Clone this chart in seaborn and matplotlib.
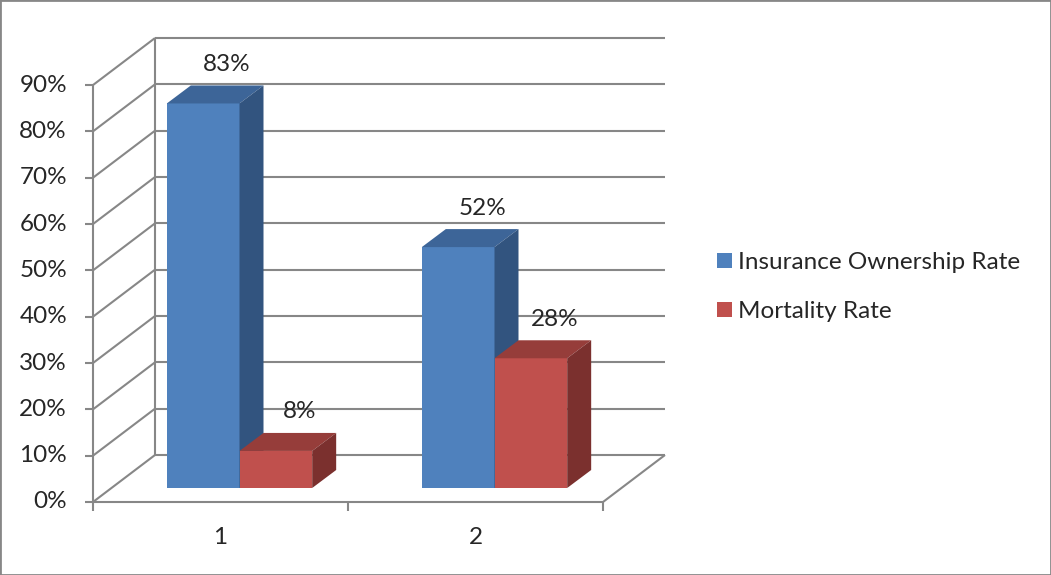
import pandas as pd
import seaborn as sns
import matplotlib.pyplot as plt
import matplotlib.transforms as mtransforms
from matplotlib.patches import Polygon, Patch, Rectangle

# chart data
groups = ["1", "2"]
series = ["Insurance Ownership Rate", "Mortality Rate"]
ownership = [83, 52]
mortality = [8, 28]
y_ticks = [0, 10, 20, 30, 40, 50, 60, 70, 80, 90]

front_colors = ["#4F81BD", "#C0504D"]
top_colors = ["#3D6598", "#963D3A"]
side_colors = ["#32547F", "#7B302E"]
grid_color = "#878787"

df = pd.DataFrame({
    "group": groups * 2,
    "series": [series[0]] * 2 + [series[1]] * 2,
    "rate": ownership + mortality,
})

sns.set_style("white")
plt.rcParams["font.family"] = ["Lato", "DejaVu Sans"]
FS = 17.5

W, H = 1051, 575
fig = plt.figure(figsize=(W / 100, H / 100), dpi=100)
ax = fig.add_axes([0, 0, 1, 1])

sns.barplot(data=df, x="group", y="rate", hue="series", palette=front_colors,
            saturation=1, width=0.57, errorbar=None, legend=False, ax=ax)

# pixel scale of the plot box
x0_px, y0_px = 93, 502          # left end of front floor edge
px_per_cat = 255.0
px_per_pct = 4.633
ax.set_xlim(-0.5 - x0_px / px_per_cat, -0.5 + (W - x0_px) / px_per_cat)
ax.set_ylim(-(H - y0_px) / px_per_pct, y0_px / px_per_pct)
ax.axis("off")

def dxd(px):
    return px / px_per_cat

def dyd(px):
    return px / px_per_pct

# back wall / left wall / floor
wdx, wdy = dxd(62), dyd(47)
xl, xr = -0.5, len(groups) - 0.5
lk = dict(color=grid_color, lw=1.5, solid_capstyle="butt", zorder=1)
for v in y_ticks:
    ax.plot([xl + wdx, xr + wdx], [v + wdy, v + wdy], **lk)
    ax.plot([xl, xl + wdx], [v, v + wdy], **lk)
    ax.plot([xl - dxd(8), xl], [v, v], **lk)
    ax.text(xl - dxd(26), v, f"{v}%", ha="right", va="center", fontsize=FS)
ax.plot([xl + wdx, xl + wdx], [wdy, y_ticks[-1] + wdy], **lk)
ax.plot([xl, xl], [0, y_ticks[-1]], **lk)
ax.plot([xl, xr], [0, 0], **lk)
ax.plot([xr, xr + wdx], [0, wdy], **lk)
for i in range(len(groups) + 1):
    ax.plot([xl + i, xl + i], [0, -dyd(9)], **lk)
for i, g in enumerate(groups):
    ax.text(i, -dyd(36), g, ha="center", va="center", fontsize=FS)

# 3d boxes: shift the bars back into the box and add top / side faces
shift = mtransforms.offset_copy(ax.transData, fig=fig, x=19, y=14, units="dots")
bdx, bdy = dxd(24), dyd(18)
n = len(groups)
for k, p in enumerate(ax.patches[:2 * n]):
    s = k // n
    z = 3 + (k % n) * 10 + s * 3
    p.set_transform(shift)
    p.set_zorder(z)
    p.set_edgecolor("none")
    x, w, h = p.get_x(), p.get_width(), p.get_height()
    top = Polygon([(x, h), (x + w, h), (x + w + bdx, h + bdy), (x + bdx, h + bdy)],
                  closed=True, facecolor=top_colors[s], edgecolor="none",
                  transform=shift, zorder=z + 1)
    side = Polygon([(x + w, 0), (x + w, h), (x + w + bdx, h + bdy), (x + w + bdx, bdy)],
                   closed=True, facecolor=side_colors[s], edgecolor="none",
                   transform=shift, zorder=z + 2)
    ax.add_patch(top)
    ax.add_patch(side)
    ax.text(x + w / 2 + bdx, h + bdy + dyd(21), f"{h:.0f}%", ha="center",
            va="center", fontsize=FS, transform=shift, zorder=50)

handles = [Patch(facecolor=c, edgecolor="none") for c in front_colors]
fig.legend(handles, series, loc="center left", bbox_to_anchor=(705 / W, 1 - 287 / H),
           frameon=False, fontsize=FS, handlelength=0.6, handleheight=0.6,
           handletextpad=0.25, labelspacing=1.15, borderpad=0)

fig.add_artist(Rectangle((0, 0), 1, 1, transform=fig.transFigure, fill=False,
                         edgecolor=grid_color, lw=2))

fig.savefig("out.png", dpi=100)
